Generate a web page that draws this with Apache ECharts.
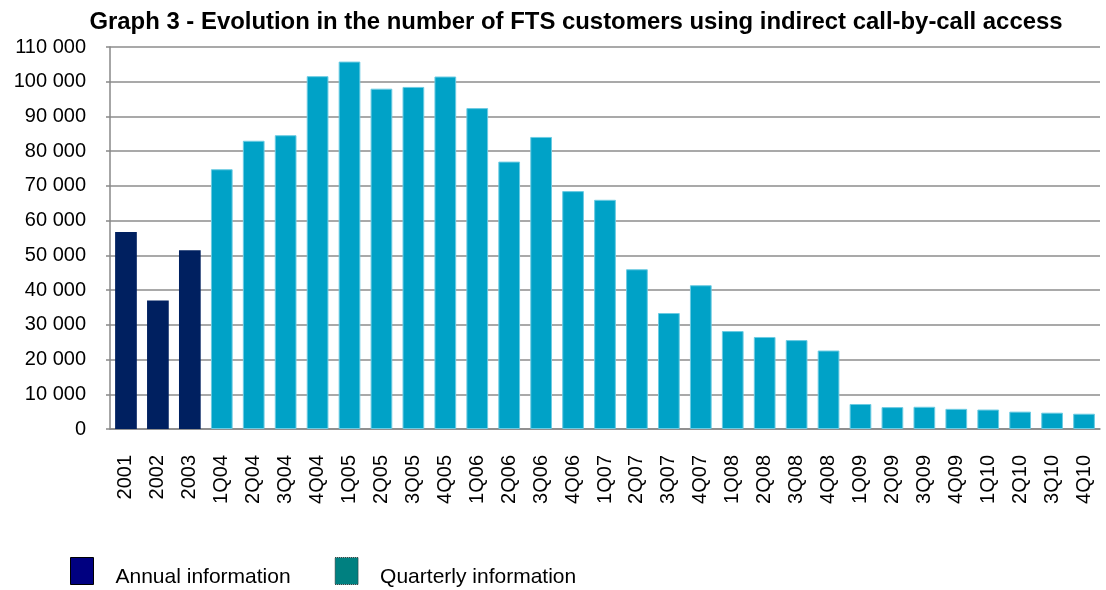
<!DOCTYPE html>
<html>
<head>
<meta charset="utf-8">
<script src="https://cdn.jsdelivr.net/npm/echarts@6/dist/echarts.min.js"></script>
<style>
html,body{margin:0;padding:0;background:#fff;}
#chart{width:1106px;height:590px;}
</style>
</head>
<body>
<div id="chart"></div>
<script>
const annualCategories = ['2001', '2002', '2003'];
const quarterlyCategories = ['1Q04','2Q04','3Q04','4Q04','1Q05','2Q05','3Q05','4Q05','1Q06','2Q06','3Q06','4Q06','1Q07','2Q07','3Q07','4Q07','1Q08','2Q08','3Q08','4Q08','1Q09','2Q09','3Q09','4Q09','1Q10','2Q10','3Q10','4Q10'];
const annualValues = [56700, 37000, 51500];
const quarterlyValues = [74800, 83000, 84600, 101600, 105800, 98000, 98500, 101500, 92400, 77000, 84100, 68500, 66000, 46000, 33400, 41400, 28200, 26500, 25600, 22600, 7200, 6300, 6400, 5800, 5600, 5000, 4700, 4400];
const yTicks = { min: 0, max: 110000, interval: 10000 };

const categories = annualCategories.concat(quarterlyCategories);
const annualData = annualValues.concat(quarterlyCategories.map(() => '-'));
const quarterlyData = annualCategories.map(() => '-').concat(quarterlyValues);

const fmt = v => String(v).replace(/\B(?=(\d{3})+(?!\d))/g, ' ');
const FONT = '"Liberation Sans", Arial, sans-serif';

const chart = echarts.init(document.getElementById('chart'), null, { renderer: 'canvas' });
chart.setOption({
  animation: false,
  backgroundColor: '#ffffff',
  textStyle: { fontFamily: FONT },
  title: {
    text: 'Graph 3 - Evolution in the number of FTS customers using indirect call-by-call access',
    left: 571, top: 5, textAlign: 'center',
    textStyle: { fontSize: 23.9, fontWeight: 'bold', color: '#000', fontFamily: FONT }
  },
  legend: {
    left: 70, top: 557, padding: 0,
    itemWidth: 23, itemHeight: 27, itemGap: 44,
    selectedMode: false,
    icon: 'rect',
    formatter: name => '{t|' + name + '}',
    textStyle: {
      fontSize: 21, color: '#000', fontFamily: FONT,
      rich: { t: { fontSize: 21, color: '#000', fontFamily: FONT, padding: [12, 0, 0, 17] } }
    },
    data: [
      { name: 'Annual information', itemStyle: { color: '#000080', borderColor: '#000', borderWidth: 1 } },
      { name: 'Quarterly information', itemStyle: { color: '#008080', borderColor: '#333', borderWidth: 1, borderType: 'dotted' } }
    ]
  },
  grid: { left: 110, right: 6, top: 47, bottom: 161, containLabel: false },
  xAxis: {
    type: 'category',
    data: categories,
    axisLine: { lineStyle: { color: '#888', width: 1.5 } },
    axisTick: { show: false },
    axisLabel: { rotate: 90, interval: 0, fontSize: 20, color: '#000', margin: 26 }
  },
  yAxis: {
    type: 'value',
    min: yTicks.min, max: yTicks.max, interval: yTicks.interval,
    axisLine: { show: true, lineStyle: { color: '#888', width: 1.5 } },
    axisTick: { show: true, length: 4, lineStyle: { color: '#888', width: 1.5 } },
    splitLine: { lineStyle: { color: '#8c8c8c', width: 1.5 } },
    axisLabel: { fontSize: 20, color: '#000', margin: 24, formatter: fmt }
  },
  series: [
    {
      name: 'Annual information', type: 'bar', stack: 'all',
      data: annualData, barWidth: '68%',
      itemStyle: { color: '#002060' }
    },
    {
      name: 'Quarterly information', type: 'bar', stack: 'all',
      data: quarterlyData, barWidth: '68%',
      itemStyle: { color: '#00a2c7', borderColor: '#6ccbe2', borderWidth: 1 }
    }
  ]
});
</script>
</body>
</html>
